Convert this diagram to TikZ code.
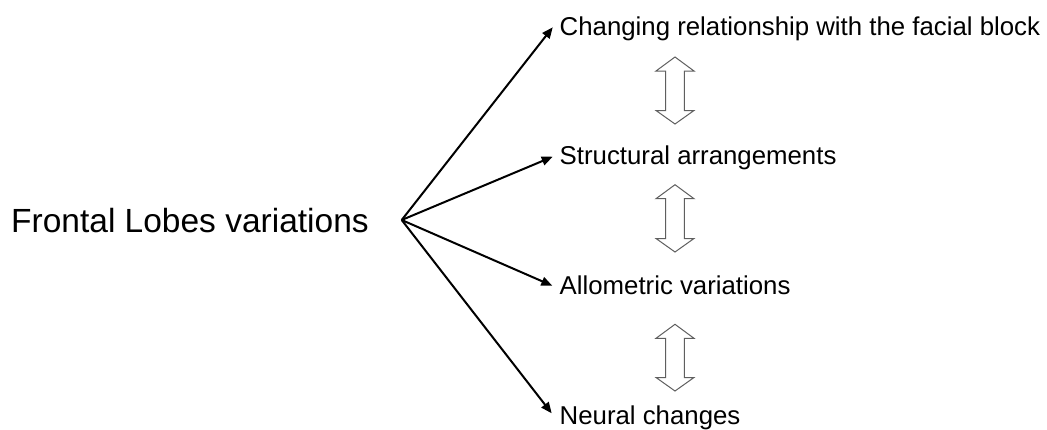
\documentclass[tikz,border=0pt]{standalone}
\usepackage{fontspec}
\setmainfont{Liberation Sans}
\usetikzlibrary{arrows.meta}
\definecolor{dblgray}{RGB}{95,95,95}
\newcommand\dblarr[3]{% x, top y, bottom y
  \draw[dblarrow] (#1,#2) -- (#1+19,#2+14) -- (#1+9.3,#2+14) -- (#1+9.3,#3-13.5)
    -- (#1+19,#3-13.5) -- (#1,#3) -- (#1-19,#3-13.5) -- (#1-9.3,#3-13.5)
    -- (#1-9.3,#2+14) -- (#1-19,#2+14) -- cycle;}
\begin{document}
\begin{tikzpicture}[x=1pt,y=-1pt,
  bigtext/.style={inner sep=0pt,anchor=base west,font=\fontsize{33.5}{40}\selectfont},
  itemtext/.style={inner sep=0pt,anchor=base west,font=\fontsize{25.8}{30}\selectfont},
  link/.style={line width=2pt,-{Triangle[length=11pt,width=9pt]}},
  dblarrow/.style={draw=dblgray,line width=1pt,line join=miter,fill=white}]
\useasboundingbox (0,0) rectangle (1047,429);
\node[bigtext] (src) at (11,232) {Frontal Lobes variations};
\coordinate (apex) at (401.7,220);
\node[itemtext] (t1) at (559.5,35.3) {Changing relationship with the facial block};
\node[itemtext] (t2) at (559.5,164.3) {Structural arrangements};
\node[itemtext] (t3) at (559.5,294.3) {Allometric variations};
\node[itemtext] (t4) at (559.5,424) {Neural changes};
\coordinate (tip1) at (552.7,27.3);
\coordinate (tip2) at (552.7,156.7);
\coordinate (tip3) at (552.3,285.7);
\coordinate (tip4) at (551.7,413.3);
\draw[link] (apex) -- (tip1);
\draw[link] (apex) -- (tip2);
\draw[link] (apex) -- (tip3);
\draw[link] (apex) -- (tip4);
\dblarr{675}{57}{124}
\dblarr{675}{184.7}{252}
\dblarr{675}{324.3}{391}
\end{tikzpicture}
\end{document}
